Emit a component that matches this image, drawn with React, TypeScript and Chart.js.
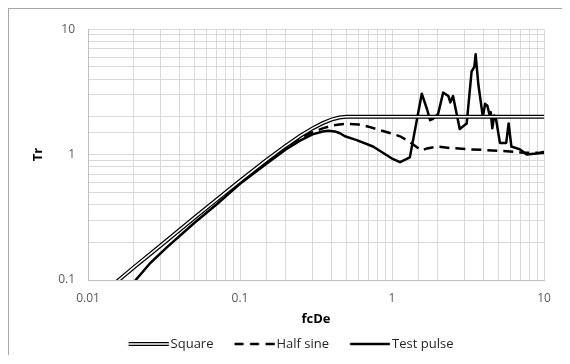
import React, { useEffect, useRef } from 'react';
import { Chart, registerables } from 'chart.js';
Chart.register(...registerables);

const squareX = [0.015, 0.02, 0.03, 0.05, 0.07, 0.1, 0.15, 0.2, 0.25, 0.3, 0.35, 0.4, 0.45, 0.5, 1, 2, 5, 10];
const squareY = [0.094, 0.126, 0.188, 0.313, 0.436, 0.618, 0.908, 1.176, 1.414, 1.618, 1.782, 1.902, 1.975, 2.0, 2.0, 2.0, 2.0, 2.0];

const halfX = [0.015, 0.02, 0.03, 0.05, 0.07, 0.1, 0.15, 0.2, 0.25, 0.3, 0.35, 0.4, 0.45, 0.5, 0.6, 0.7, 0.8, 1.0, 1.13, 1.31, 1.45, 1.57, 1.7, 1.97, 2.4, 3.34, 5.4, 7, 10];
const halfY = [0.094, 0.125, 0.187, 0.31, 0.43, 0.61, 0.89, 1.15, 1.36, 1.51, 1.62, 1.7, 1.74, 1.76, 1.74, 1.67, 1.59, 1.47, 1.4, 1.26, 1.15, 1.08, 1.12, 1.16, 1.13, 1.1, 1.07, 1.04, 1.03];

const testX = [0.018, 0.0206, 0.0256, 0.033, 0.05, 0.07, 0.1, 0.15, 0.2, 0.25, 0.3, 0.35, 0.381, 0.42, 0.455, 0.49, 0.58, 0.75, 1.0, 1.13, 1.31, 1.57, 1.7, 1.78, 1.86, 2.01, 2.17, 2.35, 2.42, 2.52, 2.79, 3.1, 3.34, 3.48, 3.55, 3.7, 3.96, 4.1, 4.24, 4.37, 4.46, 4.57, 4.71, 4.83, 5.13, 5.64, 5.85, 6.1, 6.95, 7.7, 8.9, 9.4, 9.9, 10];
const testY = [0.08, 0.1, 0.136, 0.182, 0.285, 0.4, 0.585, 0.85, 1.1, 1.3, 1.45, 1.53, 1.55, 1.53, 1.48, 1.4, 1.31, 1.16, 0.93, 0.87, 0.95, 3.06, 2.3, 1.88, 1.93, 2.11, 3.12, 2.93, 2.61, 2.93, 1.6, 1.77, 4.6, 5.0, 6.3, 3.62, 2.0, 2.54, 2.45, 2.11, 2.18, 1.62, 2.05, 1.93, 1.24, 1.24, 1.77, 1.16, 1.1, 1.0, 1.02, 1.03, 1.05, 1.05];

const seriesNames = ['Square', 'Half sine', 'Test pulse'];
const xTickLabels = ['0.01', '0.1', '1', '10'];
const yTickLabels = ['0.1', '1', '10'];
const xTitle = 'fcDe';
const yTitle = 'Tr';

const toPts = (xs: number[], ys: number[]) => xs.map((x, i) => ({ x, y: ys[i] }));

function makeSwatch(kind: string): HTMLCanvasElement {
  const c = document.createElement('canvas');
  c.width = 56;
  c.height = 8;
  const ctx = c.getContext('2d')!;
  ctx.strokeStyle = '#000';
  ctx.beginPath();
  ctx.moveTo(15.75, 4);
  ctx.lineTo(55.75, 4);
  if (kind === 'square') {
    ctx.lineWidth = 4;
    ctx.stroke();
    ctx.strokeStyle = '#fff';
    ctx.lineWidth = 1.5;
    ctx.stroke();
  } else if (kind === 'dash') {
    ctx.lineWidth = 2.5;
    ctx.setLineDash([9, 6.5]);
    ctx.stroke();
  } else {
    ctx.lineWidth = 2.5;
    ctx.stroke();
  }
  return c;
}

function labelFor(value: number, labels: string[]) {
  const found = labels.find((l) => Math.abs(parseFloat(l) - value) < value * 1e-6);
  return found !== undefined ? found : '';
}

export default function App() {
  const ref = useRef<HTMLCanvasElement>(null);
  useEffect(() => {
    const swatches = [makeSwatch('square'), makeSwatch('dash'), makeSwatch('solid')];
    const font = 'Open Sans';
    const chart = new Chart(ref.current!, {
      type: 'line',
      data: {
        datasets: [
          {
            label: 'inner',
            data: toPts(squareX, squareY),
            borderColor: '#fff',
            borderWidth: 1.5,
            pointRadius: 0,
            tension: 0,
          },
          {
            label: seriesNames[0],
            data: toPts(squareX, squareY),
            borderColor: '#000',
            borderWidth: 4,
            pointRadius: 0,
            tension: 0,
          },
          {
            label: seriesNames[1],
            data: toPts(halfX, halfY),
            borderColor: '#000',
            borderWidth: 2.5,
            borderDash: [10, 6],
            pointRadius: 0,
            tension: 0,
          },
          {
            label: seriesNames[2],
            data: toPts(testX, testY),
            borderColor: '#000',
            borderWidth: 2.5,
            pointRadius: 0,
            tension: 0,
            borderJoinStyle: 'round',
          },
        ],
      },
      options: {
        responsive: false,
        animation: false,
        events: [],
        layout: { padding: { top: 14, right: 18, bottom: 3.5, left: 18 } },
        plugins: {
          tooltip: { enabled: false },
          legend: {
            position: 'bottom',
            labels: {
              usePointStyle: true,
              pointStyleWidth: 46.5,
              padding: 10,
              color: '#262626',
              font: { family: font, size: 13 },
              generateLabels: () =>
                seriesNames.map((name, i) => ({
                  text: name,
                  pointStyle: swatches[i],
                  fillStyle: 'rgba(0,0,0,0)',
                  strokeStyle: 'rgba(0,0,0,0)',
                  lineWidth: 0,
                  hidden: false,
                  datasetIndex: i + 1,
                  fontColor: '#262626',
                })),
            },
          },
        },
        scales: {
          x: {
            type: 'logarithmic',
            min: 0.01,
            max: 10,
            afterFit: (s: any) => {
              s.height = 47.5;
            },
            grid: { color: '#d9d9d9', lineWidth: 1, drawTicks: false },
            border: { color: '#bfbfbf' },
            ticks: {
              autoSkip: false,
              maxRotation: 0,
              padding: 11,
              color: '#595959',
              font: { family: font, size: 12 },
              callback: (v: any) => labelFor(Number(v), xTickLabels),
            },
            title: {
              display: true,
              text: xTitle,
              color: '#000',
              font: { family: font, size: 13, weight: 'bold' },
              padding: { top: 0, bottom: 0 },
            },
          },
          y: {
            type: 'logarithmic',
            min: 0.1,
            max: 10,
            afterFit: (s: any) => {
              s.width = 61;
            },
            grid: { color: '#d9d9d9', lineWidth: 1, drawTicks: false },
            border: { color: '#bfbfbf' },
            ticks: {
              autoSkip: false,
              padding: 13,
              color: '#595959',
              font: { family: font, size: 12 },
              callback: (v: any) => labelFor(Number(v), yTickLabels),
            },
            title: {
              display: true,
              text: yTitle,
              color: '#000',
              font: { family: font, size: 13, weight: 'bold' },
              padding: { top: 3, bottom: 0 },
            },
          },
        },
      },
    } as any);
    return () => chart.destroy();
  }, []);
  return (
    <div
      style={{
        width: 553,
        height: 346,
        overflow: 'hidden',
        borderTop: '1px solid #a6a6a6',
        borderLeft: '1px solid #a6a6a6',
      }}
    >
      <canvas ref={ref} width={553} height={355} style={{ display: 'block', width: 553, height: 355 }} />
    </div>
  );
}
